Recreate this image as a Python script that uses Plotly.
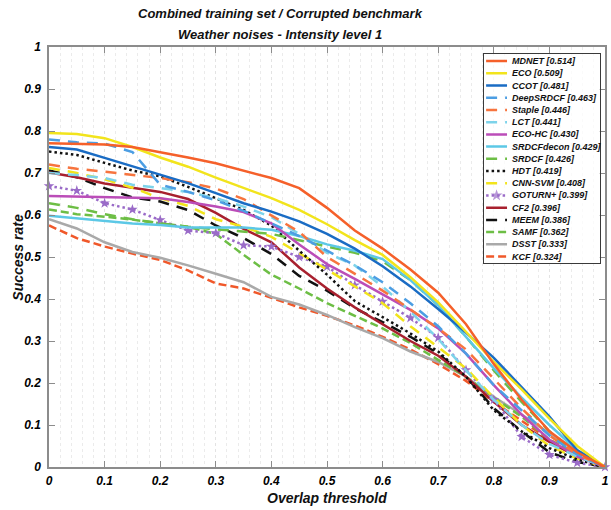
import plotly.graph_objects as go

# ---------------- data ----------------
thresholds = [0.00, 0.05, 0.10, 0.15, 0.20, 0.25, 0.30, 0.35, 0.40, 0.45, 0.50,
              0.55, 0.60, 0.65, 0.70, 0.75, 0.80, 0.85, 0.90, 0.95, 1.00]

trackers = ["MDNET", "ECO", "CCOT", "DeepSRDCF", "Staple", "LCT", "ECO-HC",
            "SRDCFdecon", "SRDCF", "HDT", "CNN-SVM", "GOTURN+", "CF2", "MEEM",
            "SAMF", "DSST", "KCF"]
auc_scores = [0.514, 0.509, 0.481, 0.463, 0.446, 0.441, 0.430, 0.429, 0.426,
              0.419, 0.408, 0.399, 0.396, 0.386, 0.362, 0.333, 0.324]

mdnet = [0.771, 0.770, 0.768, 0.762, 0.750, 0.737, 0.723, 0.706, 0.688, 0.664, 0.617,
         0.563, 0.520, 0.470, 0.415, 0.340, 0.245, 0.160, 0.085, 0.035, 0.000]
eco = [0.795, 0.793, 0.783, 0.762, 0.737, 0.715, 0.689, 0.664, 0.640, 0.612, 0.578,
       0.540, 0.505, 0.452, 0.392, 0.322, 0.250, 0.185, 0.115, 0.050, 0.000]
ccot = [0.762, 0.756, 0.736, 0.716, 0.695, 0.676, 0.652, 0.628, 0.608, 0.585, 0.555,
        0.520, 0.478, 0.430, 0.376, 0.320, 0.260, 0.190, 0.120, 0.040, 0.000]
deepsrdcf = [0.780, 0.773, 0.770, 0.750, 0.672, 0.655, 0.635, 0.610, 0.580, 0.550, 0.515,
             0.480, 0.440, 0.390, 0.335, 0.270, 0.195, 0.135, 0.075, 0.030, 0.000]
staple = [0.720, 0.710, 0.703, 0.695, 0.688, 0.678, 0.663, 0.638, 0.600, 0.560, 0.500,
          0.460, 0.420, 0.375, 0.330, 0.280, 0.210, 0.140, 0.075, 0.030, 0.000]
lct = [0.700, 0.695, 0.688, 0.672, 0.664, 0.655, 0.640, 0.620, 0.595, 0.555, 0.510,
       0.480, 0.430, 0.370, 0.305, 0.230, 0.160, 0.100, 0.055, 0.025, 0.000]
eco_hc = [0.645, 0.644, 0.643, 0.642, 0.640, 0.631, 0.620, 0.607, 0.580, 0.530, 0.483,
          0.448, 0.412, 0.374, 0.330, 0.270, 0.195, 0.125, 0.065, 0.025, 0.000]
srdcfdecon = [0.598, 0.592, 0.585, 0.580, 0.576, 0.570, 0.570, 0.570, 0.565, 0.550, 0.530,
              0.515, 0.495, 0.445, 0.385, 0.310, 0.235, 0.165, 0.100, 0.040, 0.000]
srdcf = [0.628, 0.617, 0.602, 0.590, 0.580, 0.572, 0.566, 0.560, 0.555, 0.540, 0.525,
         0.510, 0.490, 0.445, 0.385, 0.310, 0.230, 0.155, 0.085, 0.030, 0.000]
hdt = [0.751, 0.743, 0.724, 0.706, 0.692, 0.667, 0.640, 0.612, 0.575, 0.515, 0.458,
       0.395, 0.357, 0.318, 0.275, 0.215, 0.135, 0.085, 0.045, 0.018, 0.000]
cnn_svm = [0.712, 0.700, 0.685, 0.665, 0.640, 0.622, 0.590, 0.572, 0.548, 0.510, 0.470,
           0.430, 0.390, 0.335, 0.285, 0.235, 0.165, 0.100, 0.050, 0.020, 0.000]
goturn = [0.669, 0.658, 0.628, 0.613, 0.588, 0.563, 0.557, 0.528, 0.525, 0.500, 0.477,
          0.433, 0.394, 0.355, 0.308, 0.231, 0.160, 0.072, 0.029, 0.010, 0.000]
cf2 = [0.701, 0.690, 0.675, 0.665, 0.655, 0.638, 0.605, 0.567, 0.535, 0.475, 0.425,
       0.380, 0.340, 0.300, 0.265, 0.215, 0.155, 0.100, 0.060, 0.025, 0.000]
meem = [0.706, 0.690, 0.664, 0.642, 0.632, 0.612, 0.575, 0.545, 0.507, 0.455, 0.420,
        0.378, 0.345, 0.310, 0.270, 0.215, 0.140, 0.085, 0.035, 0.012, 0.000]
samf = [0.613, 0.602, 0.596, 0.589, 0.580, 0.572, 0.555, 0.505, 0.458, 0.425, 0.390,
        0.360, 0.330, 0.295, 0.255, 0.215, 0.165, 0.120, 0.065, 0.030, 0.000]
dsst = [0.590, 0.568, 0.535, 0.512, 0.498, 0.480, 0.460, 0.440, 0.405, 0.387, 0.362,
        0.333, 0.307, 0.275, 0.250, 0.215, 0.167, 0.125, 0.080, 0.040, 0.000]
kcf = [0.575, 0.545, 0.525, 0.508, 0.493, 0.468, 0.437, 0.425, 0.403, 0.380, 0.360,
       0.337, 0.310, 0.280, 0.245, 0.205, 0.155, 0.110, 0.065, 0.030, 0.000]

series = [mdnet, eco, ccot, deepsrdcf, staple, lct, eco_hc, srdcfdecon, srdcf, hdt,
          cnn_svm, goturn, cf2, meem, samf, dsst, kcf]

# ---------------- styles ----------------
LONG = "11px,8px"
SHORT = "8px,4px"
DOT = "2.5px,3px"
styles = {
    "MDNET":      dict(color="#F5602A", dash="solid"),
    "ECO":        dict(color="#F2E41C", dash="solid"),
    "CCOT":       dict(color="#1A6CC4", dash="solid"),
    "DeepSRDCF":  dict(color="#4C9EE3", dash=LONG),
    "Staple":     dict(color="#F7743E", dash=LONG),
    "LCT":        dict(color="#7DD3EA", dash=LONG),
    "ECO-HC":     dict(color="#BB4DB8", dash="solid"),
    "SRDCFdecon": dict(color="#5CC8E6", dash="solid"),
    "SRDCF":      dict(color="#6DBE45", dash=LONG),
    "HDT":        dict(color="#111111", dash=DOT),
    "CNN-SVM":    dict(color="#F2E41C", dash=LONG),
    "GOTURN+":    dict(color="#9A6BC8", dash=DOT, marker=True),
    "CF2":        dict(color="#A8202E", dash="solid"),
    "MEEM":       dict(color="#111111", dash=LONG),
    "SAMF":       dict(color="#6DBE45", dash=SHORT),
    "DSST":       dict(color="#A9A9A9", dash="solid"),
    "KCF":        dict(color="#F0582A", dash=SHORT),
}

FONT = "Liberation Sans, Arial, Helvetica, sans-serif"
LW = 2.5
STAR = 8

fig = go.Figure()

# main curves (drawn lowest-ranked first so leaders sit on top)
for name, vals in reversed(list(zip(trackers, series))):
    st = styles[name]
    has_marker = st.get("marker", False)
    fig.add_trace(go.Scatter(
        x=thresholds, y=vals, name=name,
        mode="lines+markers" if has_marker else "lines",
        line=dict(color=st["color"], width=LW, dash=st["dash"]),
        marker=dict(symbol="star", size=STAR, color=st["color"], line=dict(width=0)),
        cliponaxis=False, showlegend=False, hoverinfo="skip",
    ))

# custom legend drawn on an inset pair of axes
n = len(trackers)
sample_x = [0.02, 0.11, 0.20]
for i, (name, auc) in enumerate(zip(trackers, auc_scores)):
    st = styles[name]
    row = n - 1 - i
    has_marker = st.get("marker", False)
    fig.add_trace(go.Scatter(
        x=sample_x, y=[row] * 3, xaxis="x2", yaxis="y2",
        mode="lines+markers" if has_marker else "lines",
        line=dict(color=st["color"], width=LW, dash=st["dash"]),
        marker=dict(symbol="star", size=[0, STAR + 1, 0] if has_marker else 0,
                    color=st["color"], line=dict(width=0)),
        showlegend=False, hoverinfo="skip",
    ))
    fig.add_annotation(
        x=0.225, y=row, xref="x2", yref="y2", xanchor="left", yanchor="middle",
        text=f"{name} [{auc:.3f}]", showarrow=False,
        font=dict(family=FONT, size=9, color="#111111", weight="bold", style="italic"),
    )

axis_font = dict(family=FONT, size=12, color="#000000", weight="bold", style="italic")

fig.update_layout(
    width=611, height=510, autosize=False,
    margin=dict(l=49, r=2, t=47, b=43, pad=0),
    paper_bgcolor="white", plot_bgcolor="rgba(255,255,255,0.75)",
    showlegend=False,
    xaxis=dict(
        range=[0, 1], domain=[0, 1], tick0=0, dtick=0.1,
        ticks="inside", ticklen=6, tickcolor="#8c8c8c", tickwidth=1,
        showline=True, linecolor="#8c8c8c", linewidth=1.5, mirror="ticks",
        showgrid=True, gridcolor="#e3e3e3", griddash="dot", gridwidth=1,
        minor=dict(dtick=0.02, showgrid=True, gridcolor="#ebebeb",
                   griddash="dot", gridwidth=1, ticks=""),
        zeroline=False, tickfont=axis_font, ticklabelstandoff=2,
    ),
    yaxis=dict(
        range=[0, 1], domain=[0, 1], tick0=0, dtick=0.1,
        ticks="inside", ticklen=6, tickcolor="#8c8c8c", tickwidth=1,
        showline=True, linecolor="#8c8c8c", linewidth=1.5, mirror="ticks",
        showgrid=False, zeroline=False, tickfont=axis_font, ticklabelstandoff=4,
    ),
    xaxis2=dict(
        domain=[0.782, 0.991], range=[0, 1], anchor="y2",
        showgrid=False, zeroline=False, showticklabels=False, ticks="",
        showline=True, linecolor="#3a3a3a", linewidth=1, mirror=True,
    ),
    yaxis2=dict(
        domain=[0.486, 0.983], range=[-0.52, 16.57], anchor="x2",
        showgrid=False, zeroline=False, showticklabels=False, ticks="",
        showline=True, linecolor="#3a3a3a", linewidth=1, mirror=True,
    ),
)

title_font = dict(family=FONT, size=13, color="#111111", weight="bold", style="italic")
fig.add_annotation(x=0.416, y=1.0798, xref="paper", yref="paper",
                   text="Combined training set / Corrupted benchmark",
                   showarrow=False, font=title_font, xanchor="center", yanchor="middle")
fig.add_annotation(x=0.416, y=1.0286, xref="paper", yref="paper",
                   text="Weather noises - Intensity level 1",
                   showarrow=False, font=title_font, xanchor="center", yanchor="middle")

label_font = dict(family=FONT, size=14, color="#111111", weight="bold", style="italic")
fig.add_annotation(x=0.5, y=-0.0738, xref="paper", yref="paper",
                   text="Overlap threshold", showarrow=False, font=label_font,
                   xanchor="center", yanchor="middle")
fig.add_annotation(x=-0.0563, y=0.5, xref="paper", yref="paper",
                   text="Success rate", showarrow=False, font=label_font,
                   textangle=-90, xanchor="center", yanchor="middle")

fig.write_html("out.html")
